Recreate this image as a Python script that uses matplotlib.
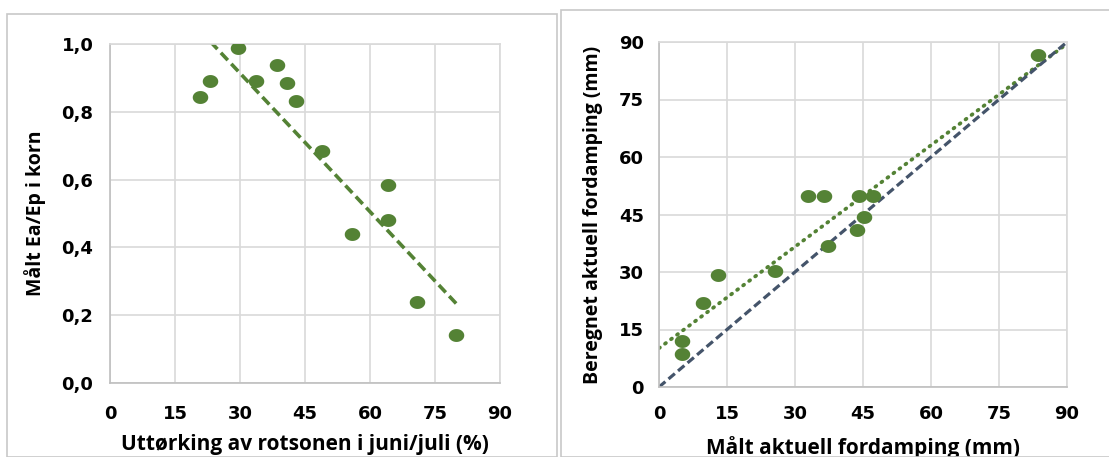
import matplotlib
matplotlib.use("Agg")
import matplotlib.pyplot as plt
from matplotlib.patches import Rectangle
from matplotlib.ticker import FuncFormatter
import numpy as np

# venstre panel: uttørking vs Ea/Ep
uttorking = [20.8, 23.1, 29.5, 33.7, 38.6, 40.8, 42.9, 49.0, 64.2, 55.9, 64.1, 70.8, 79.9]
ea_ep = [0.845, 0.892, 0.987, 0.892, 0.937, 0.886, 0.831, 0.685, 0.585, 0.439, 0.481, 0.238, 0.142]

# høyre panel: målt vs beregnet fordamping
maalt = [83.5, 32.9, 36.5, 44.2, 47.1, 45.2, 43.6, 37.2, 25.6, 13.1, 9.6, 5.1, 5.1]
beregnet = [86.6, 49.8, 49.8, 49.8, 49.8, 44.3, 41.0, 36.7, 30.3, 29.3, 21.8, 12.1, 8.6]

ticks15 = [0, 15, 30, 45, 60, 75, 90]
green = "#548235"
slate = "#44546A"
gridc = "#D9D9D9"

plt.rcParams["font.family"] = ["Open Sans", "DejaVu Sans"]
plt.rcParams["font.weight"] = "bold"

# litt bred ellipse som markør (som i Excel-figuren)
t = np.linspace(0, 2 * np.pi, 40)
ell = np.column_stack([1.2 * np.cos(t), np.sin(t)])

fig = plt.figure(figsize=(11.09, 4.57), dpi=100)

# panel rammer
fig.patches.append(Rectangle((7 / 1109, 0), 550 / 1109, 1 - 14 / 457, transform=fig.transFigure,
                             fill=False, edgecolor="#C8C8C8", linewidth=1.2))
fig.patches.append(Rectangle((561 / 1109, 0), 560 / 1109, 1 - 10 / 457, transform=fig.transFigure,
                             fill=False, edgecolor="#C8C8C8", linewidth=1.2))

ax1 = fig.add_axes([110 / 1109, 1 - 383 / 457, 390 / 1109, 339 / 457])
ax2 = fig.add_axes([659 / 1109, 1 - 387 / 457, 408 / 1109, 345 / 457])

for ax in (ax1, ax2):
    ax.grid(True, color=gridc, linewidth=1.2)
    ax.set_axisbelow(True)
    for sp in ax.spines.values():
        sp.set_color(gridc)
        sp.set_linewidth(1.2)
    ax.spines["left"].set_color("#BFBFBF")
    ax.spines["bottom"].set_color("#BFBFBF")
    ax.tick_params(length=0)

# venstre
ax1.scatter(uttorking, ea_ep, s=125, marker=ell, color=green, zorder=3, linewidths=0)
k, m = np.polyfit(uttorking, ea_ep, 1)
xs = np.linspace(min(uttorking), max(uttorking), 50)
ax1.plot(xs, k * xs + m, color=green, linestyle=(0, (2.8, 1.4)), linewidth=2.6, zorder=2)
ax1.set_xlim(0, 90)
ax1.set_ylim(0, 1.0)
ax1.set_xticks(ticks15)
ax1.set_yticks([0, 0.2, 0.4, 0.6, 0.8, 1.0])
ax1.yaxis.set_major_formatter(FuncFormatter(lambda v, p: f"{v:.1f}".replace(".", ",")))
ax1.tick_params(axis="y", pad=12)
ax1.tick_params(axis="x", pad=16)
ax1.set_xlabel("Uttørking av rotsonen i juni/juli (%)", fontsize=15, fontweight="bold", labelpad=8)
ax1.set_ylabel("Målt Ea/Ep i korn", fontsize=14, fontweight="bold", labelpad=11)

# høyre
ax2.scatter(maalt, beregnet, s=125, marker=ell, color=green, zorder=3, linewidths=0)
k2, m2 = np.polyfit(maalt, beregnet, 1)
xs2 = np.linspace(0, 90, 50)
ax2.plot(xs2, k2 * xs2 + m2, color=green, linestyle=(0, (0.3, 1.7)), linewidth=2.7,
         dash_capstyle="round", zorder=2)
ax2.plot(ticks15, ticks15, color=slate, linestyle=(0, (2.6, 1.3)), linewidth=2.3, zorder=2)
ax2.set_xlim(0, 90)
ax2.set_ylim(0, 90)
ax2.set_xticks(ticks15)
ax2.set_yticks(ticks15)
ax2.tick_params(axis="y", pad=11)
ax2.tick_params(axis="x", pad=13)
ax2.set_xlabel("Målt aktuell fordamping (mm)", fontsize=15, fontweight="bold", labelpad=9)
ax2.set_ylabel("Beregnet aktuell fordamping (mm)", fontsize=14, fontweight="bold", labelpad=11)

for ax in (ax1, ax2):
    for lab in ax.get_xticklabels() + ax.get_yticklabels():
        lab.set_fontfamily("DejaVu Sans")
        lab.set_fontweight("bold")
        lab.set_fontsize(13)

fig.savefig("out.png", dpi=100)
